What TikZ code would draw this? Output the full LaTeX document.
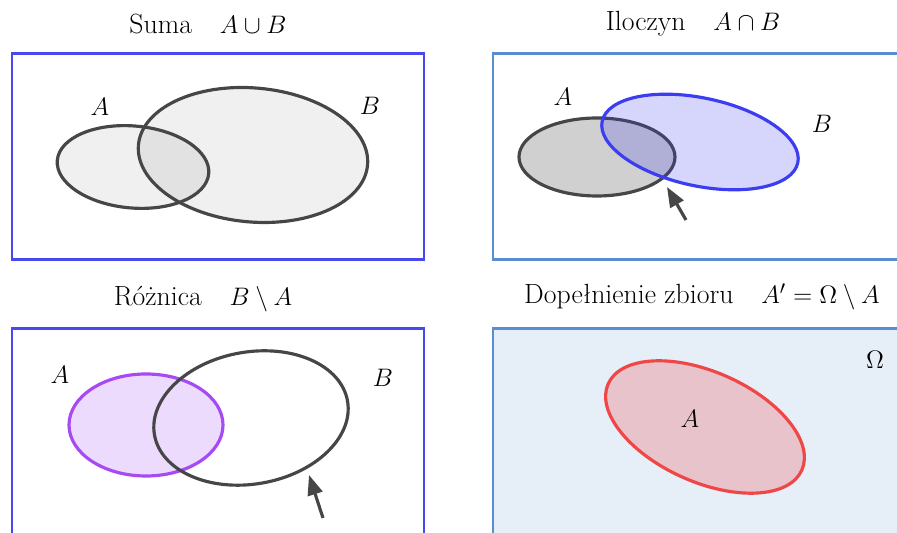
\documentclass[tikz,border=0pt]{standalone}
\usepackage{tikz}
\usetikzlibrary{arrows.meta}
\definecolor{frameblue}{RGB}{72,72,240}
\definecolor{framesteel}{RGB}{90,140,210}
\definecolor{darkline}{RGB}{70,70,70}
\definecolor{setblue}{RGB}{60,60,240}
\definecolor{setpurple}{RGB}{166,74,244}
\definecolor{setred}{RGB}{240,70,70}
\definecolor{omegafill}{RGB}{230,238,248}

\begin{document}
\begin{tikzpicture}[x=0.02cm,y=0.02cm,
    frame/.style={line width=1.7pt},
    setline/.style={line width=1.8pt, draw=darkline},
    lab/.style={font=\fontsize{15.8}{19}\selectfont},
    pointer/.style={line width=1.8pt, draw=darkline, -{Triangle[length=4mm,width=3mm]}}]
\clip (0,0) rectangle (897,533);
% Titles
\node[lab] (t1) at (208,509) {Suma\quad$A\cup B$};
\node[lab] (t2) at (693,509) {Iloczyn\quad$A\cap B$};
\node[lab] (t3) at (203,234) {Różnica\quad$B\setminus A$};
\node[lab] (t4) at (702,236) {Dopełnienie zbioru\quad$A'=\Omega\setminus A$};
% Frames
\draw[frame, frameblue] (12,273) rectangle (424,479);
\draw[frame, framesteel] (493,273) rectangle (950,479);
\draw[frame, frameblue] (12,-50) rectangle (424,204);
\draw[frame, framesteel, fill=omegafill] (493,-50) rectangle (950,204);

% Suma
\begin{scope}[shift={(133,366)}, rotate=-5]
  \fill[black, fill opacity=0.06] (0,0) ellipse [x radius=76, y radius=41];
\end{scope}
\begin{scope}[shift={(253,378)}, rotate=-5]
  \fill[black, fill opacity=0.06] (0,0) ellipse [x radius=115, y radius=67];
\end{scope}
\draw[setline, shift={(133,366)}, rotate=-5] (0,0) ellipse [x radius=76, y radius=41];
\draw[setline, shift={(253,378)}, rotate=-5] (0,0) ellipse [x radius=115, y radius=67];
\node[lab] (a1) at (100,426) {$A$};
\node[lab] (b1) at (370,427) {$B$};

% Iloczyn
\draw[setline, fill={rgb,255:red,208;green,208;blue,208}] (597,376) ellipse [x radius=78, y radius=39];
\begin{scope}[shift={(700,391)}, rotate=-12]
  \fill[setblue, fill opacity=0.21] (0,0) ellipse [x radius=100, y radius=44];
  \draw[setblue, line width=1.8pt] (0,0) ellipse [x radius=100, y radius=44];
\end{scope}
\node[lab] (a2) at (563,436) {$A$};
\node[lab] (b2) at (822,409) {$B$};
\coordinate (p2tail) at (686,313);
\coordinate (p2tip) at (667,346);
\draw[pointer] (p2tail) -- (p2tip);

% Roznica
\fill[setpurple, fill opacity=0.2] (146,108) ellipse [x radius=77, y radius=51];
\draw[setpurple, line width=1.8pt] (146,108) ellipse [x radius=77, y radius=51];
\draw[setline, shift={(251,115)}, rotate=10] (0,0) ellipse [x radius=98, y radius=66];
\node[lab] (a3) at (60,158) {$A$};
\node[lab] (b3) at (383,155) {$B$};
\coordinate (p3tail) at (323,15);
\coordinate (p3tip) at (309,58);
\draw[pointer] (p3tail) -- (p3tip);

% Dopelnienie
\begin{scope}[shift={(705,106)}, rotate=-24]
  \fill[setred, fill opacity=0.25] (0,0) ellipse [x radius=106, y radius=55];
  \draw[setred, line width=1.8pt] (0,0) ellipse [x radius=106, y radius=55];
\end{scope}
\node[lab] (a4) at (690,114) {$A$};
\node[lab] (om) at (875,173) {$\Omega$};
\end{tikzpicture}
\end{document}
